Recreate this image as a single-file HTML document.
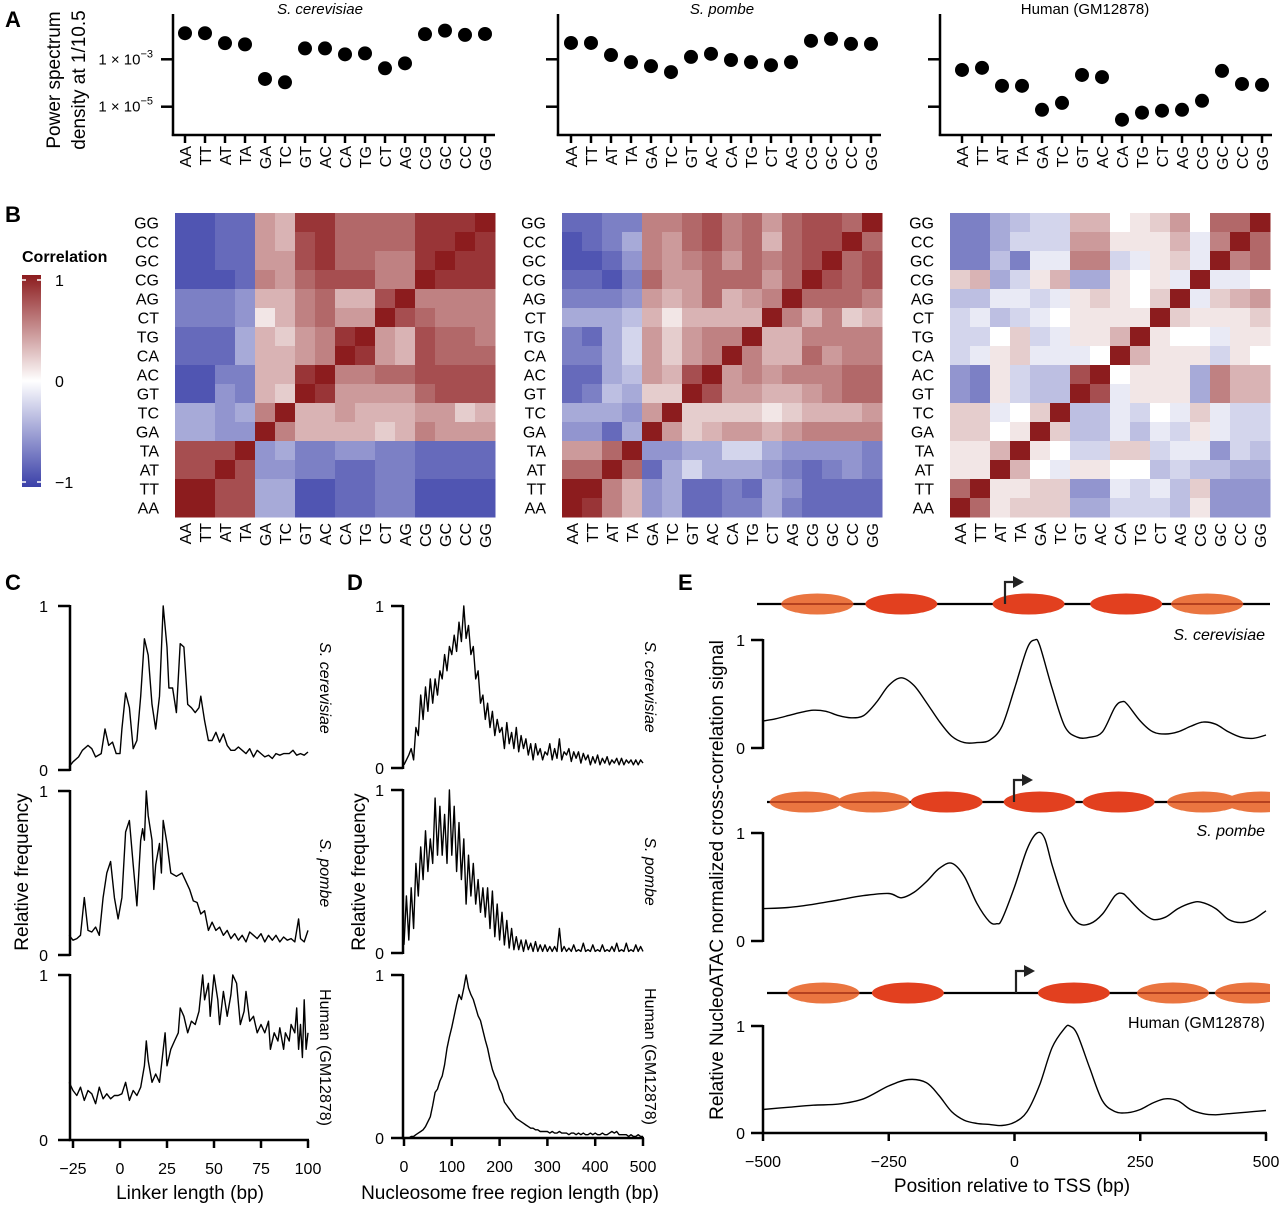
<!DOCTYPE html>
<html><head><meta charset="utf-8"><style>
body{margin:0;background:#fff}
svg{display:block;font-family:"Liberation Sans",sans-serif}
</style></head><body>
<svg id="fig" width="1280" height="1205" viewBox="0 0 1280 1205" xmlns="http://www.w3.org/2000/svg"></svg>
<script>
// ---------- DATA ----------
const dinucs = ["AA","TT","AT","TA","GA","TC","GT","AC","CA","TG","CT","AG","CG","GC","CC","GG"];
const rowLabels = ["GG","CC","GC","CG","AG","CT","TG","CA","AC","GT","TC","GA","TA","AT","TT","AA"];
// Panel A: log10 power spectrum density
const psdCer = [-1.90,-1.90,-2.32,-2.37,-3.83,-3.97,-2.54,-2.54,-2.79,-2.75,-3.38,-3.17,-1.94,-1.79,-1.97,-1.93];
const psdPom = [-2.31,-2.31,-2.82,-3.12,-3.29,-3.54,-2.90,-2.77,-3.03,-3.12,-3.25,-3.12,-2.22,-2.14,-2.35,-2.35];
const psdHum = [-3.45,-3.36,-4.12,-4.12,-5.13,-4.84,-3.66,-3.75,-5.55,-5.25,-5.17,-5.13,-4.75,-3.49,-4.04,-4.08];
// Panel B: correlations (x9), rows top->bottom (rowLabels), cols dinucs
const corrCer = [
[-8,-8,-7,-7,4,3,8,8,6,6,6,6,8,8,8,9],[-8,-8,-7,-7,4,3,7,8,6,6,6,6,8,8,9,8],
[-8,-8,-7,-7,4,4,7,8,6,6,5,5,8,9,8,8],[-8,-8,-8,-7,5,4,6,7,7,7,5,5,9,8,8,8],
[-6,-6,-6,-5,3,3,5,6,3,3,7,9,5,5,5,5],[-6,-6,-6,-5,1,3,5,6,4,4,9,7,6,5,5,5],
[-7,-7,-7,-4,3,2,4,5,8,9,4,3,7,6,6,5],[-7,-7,-7,-4,3,3,4,5,9,8,4,3,7,6,6,6],
[-8,-8,-6,-6,3,3,8,9,5,5,6,6,7,7,7,7],[-8,-8,-5,-6,3,2,9,8,4,4,4,4,6,7,7,7],
[-4,-4,-5,-4,5,9,3,3,4,3,3,3,4,4,2,3],[-4,-4,-5,-5,9,5,3,3,3,3,2,3,5,4,4,4],
[7,7,7,9,-5,-4,-6,-6,-5,-5,-6,-6,-7,-7,-7,-7],[7,7,9,7,-5,-5,-6,-6,-7,-7,-6,-6,-7,-7,-7,-7],
[9,9,7,7,-4,-4,-8,-8,-7,-7,-6,-6,-8,-8,-8,-8],[9,9,7,7,-4,-4,-8,-8,-7,-7,-6,-6,-8,-8,-8,-8]];
const corrPom = [
[-7,-7,-6,-6,5,5,6,7,5,6,4,6,7,7,6,9],[-8,-7,-6,-4,5,4,6,7,5,6,3,6,7,7,9,6],
[-8,-8,-7,-5,5,4,5,6,4,6,5,6,7,9,6,7],[-7,-7,-8,-6,6,4,4,6,6,6,4,6,9,7,6,7],
[-6,-6,-6,-5,4,3,4,6,3,4,5,9,6,6,6,5],[-4,-4,-4,-3,3,1,3,3,3,3,9,5,3,5,2,3],
[-6,-7,-4,-2,4,2,4,5,5,9,3,3,5,5,5,5],[-6,-6,-4,-2,4,2,4,5,9,5,3,3,6,4,5,5],
[-7,-7,-4,-3,4,3,7,9,4,5,4,5,5,5,6,6],[-7,-6,-3,-4,2,2,9,7,4,4,3,3,4,5,6,6],
[-4,-4,-4,-5,4,9,2,2,2,2,1,2,3,3,3,4],[-5,-5,-7,-4,9,4,2,3,4,4,3,4,5,5,5,5],
[4,4,6,9,-5,-5,-4,-4,-2,-2,-4,-5,-5,-5,-5,-6],[6,6,9,6,-7,-4,-2,-4,-4,-4,-5,-6,-7,-6,-5,-6],
[9,9,5,3,-5,-4,-7,-7,-6,-7,-4,-5,-7,-7,-7,-7],[9,8,5,3,-5,-4,-7,-7,-6,-6,-4,-6,-7,-7,-7,-7]];
const corrHum = [
[-6,-6,-4,-3,-2,-2,3,3,0,1,2,4,0,6,6,9],[-6,-6,-4,-2,-2,-2,4,4,1,1,1,3,-1,5,9,6],
[-6,-6,-3,-6,-1,-1,5,5,-2,-1,1,2,-1,9,5,6],[2,3,-4,-2,1,3,-4,-4,1,0,1,-1,9,-1,-1,0],
[-3,-3,-1,-1,-2,-1,1,2,1,0,2,9,-1,2,3,4],[-2,-1,-3,-2,-1,0,1,1,1,1,9,2,1,1,1,2],
[-2,-2,0,2,-2,-1,1,1,3,9,1,0,0,-1,1,1],[-2,-1,1,2,-1,-1,-1,0,9,3,1,1,1,-2,1,0],
[-5,-6,1,-2,-3,-3,7,9,0,1,1,1,-4,5,3,3],[-5,-6,1,-2,-3,-3,9,7,-1,1,1,1,-4,5,3,3],
[2,2,-1,0,2,9,-3,-3,-1,-2,0,-1,2,-1,-2,-2],[2,2,0,1,9,2,-3,-3,-1,-3,-1,-2,1,-1,-2,-2],
[1,1,3,9,1,0,-2,-2,2,2,-2,-1,-1,-5,-2,-3],[1,1,9,3,0,-1,1,1,0,0,-3,-2,-3,-3,-4,-4],
[6,9,1,1,2,2,-5,-5,-1,-2,-1,-3,2,-5,-5,-5],[9,6,1,2,2,2,-4,-4,-2,-2,-2,-3,1,-5,-5,-5]];
// Panel C: linker length distributions
const linkCerX = [-27,-25,-22,-20,-17,-15,-13,-10,-8,-6,-4,-2,0,1,3,5,7,9,11,13,15,17,19,21,23,25,26,28,30,32,34,36,38,40,42,43,45,47,49,51,53,55,57,59,61,63,65,67,69,71,73,75,77,79,81,83,85,87,90,92,94,96,98,100];
const linkCerY = [0.02,0.05,0.08,0.12,0.15,0.13,0.08,0.10,0.25,0.15,0.17,0.10,0.10,0.25,0.47,0.38,0.13,0.18,0.45,0.80,0.70,0.40,0.25,0.45,1.0,0.75,0.50,0.50,0.35,0.77,0.75,0.40,0.38,0.35,0.38,0.45,0.30,0.18,0.18,0.23,0.17,0.22,0.15,0.12,0.12,0.14,0.12,0.10,0.13,0.08,0.12,0.10,0.08,0.09,0.07,0.10,0.09,0.10,0.10,0.12,0.09,0.10,0.09,0.11];
const linkPomX = [-27,-25,-23,-21,-19,-17,-15,-13,-11,-9,-7,-5,-3,-1,1,3,5,7,9,11,12,13,14,15,17,18,19,21,22,23,24,25,27,30,33,35,37,39,41,43,45,47,49,51,53,55,57,59,61,63,65,67,69,71,73,75,77,79,81,83,85,87,89,91,93,95,96,98,100];
const linkPomY = [0.12,0.09,0.10,0.12,0.35,0.15,0.14,0.17,0.12,0.35,0.50,0.57,0.35,0.22,0.35,0.75,0.82,0.55,0.30,0.70,0.77,0.70,1.0,0.85,0.70,0.40,0.55,0.68,0.50,0.82,0.75,0.68,0.50,0.48,0.50,0.45,0.40,0.33,0.32,0.25,0.27,0.15,0.20,0.15,0.17,0.12,0.15,0.10,0.13,0.09,0.12,0.08,0.14,0.12,0.10,0.13,0.08,0.12,0.09,0.12,0.08,0.11,0.09,0.10,0.08,0.22,0.10,0.08,0.15];
const linkHumX = [-27,-25,-23,-21,-19,-17,-15,-13,-11,-9,-7,-5,-3,-1,1,3,5,7,9,11,13,14,15,17,19,21,22,24,25,27,29,31,32,34,36,38,40,42,44,45,47,48,50,52,53,55,57,59,60,62,64,66,67,69,71,73,75,77,79,80,82,84,85,87,88,90,91,93,94,95,96,97,98,99,100];
const linkHumY = [0.35,0.30,0.27,0.32,0.24,0.30,0.28,0.22,0.32,0.25,0.28,0.25,0.27,0.27,0.28,0.35,0.24,0.30,0.27,0.32,0.45,0.60,0.48,0.35,0.40,0.35,0.45,0.65,0.45,0.55,0.60,0.65,0.80,0.75,0.65,0.72,0.70,0.78,1.0,0.85,0.95,0.75,1.0,0.85,0.70,0.90,0.75,0.88,1.0,0.95,0.70,0.78,0.90,0.72,0.75,0.65,0.70,0.65,0.72,0.55,0.65,0.60,0.68,0.55,0.65,0.60,0.70,0.65,0.80,0.55,0.70,0.50,0.85,0.55,0.65];
// Panel D: NFR length distributions, every 5 bp from 0 to 500
const nfrCer = [0.02,0.05,0.08,0.12,0.05,0.25,0.20,0.45,0.30,0.50,0.35,0.55,0.40,0.55,0.45,0.60,0.55,0.70,0.60,0.75,0.70,0.82,0.72,0.90,0.78,1.0,0.80,0.88,0.70,0.75,0.55,0.60,0.40,0.45,0.30,0.40,0.25,0.35,0.20,0.30,0.22,0.25,0.12,0.28,0.15,0.22,0.12,0.25,0.10,0.20,0.12,0.18,0.08,0.15,0.05,0.15,0.08,0.12,0.05,0.10,0.08,0.15,0.05,0.12,0.06,0.18,0.05,0.10,0.08,0.12,0.04,0.10,0.06,0.10,0.03,0.09,0.05,0.08,0.02,0.07,0.03,0.08,0.02,0.06,0.03,0.07,0.02,0.05,0.03,0.06,0.02,0.06,0.02,0.05,0.03,0.05,0.02,0.05,0.02,0.05,0.03];
const nfrPom = [0.05,0.35,0.08,0.40,0.15,0.55,0.35,0.65,0.45,0.75,0.50,0.70,0.55,0.95,0.60,0.90,0.60,0.85,0.55,1.0,0.60,0.90,0.50,0.80,0.45,0.70,0.30,0.60,0.35,0.55,0.30,0.45,0.25,0.40,0.22,0.40,0.15,0.38,0.10,0.30,0.08,0.25,0.05,0.20,0.03,0.15,0.02,0.10,0.02,0.08,0.01,0.08,0.02,0.06,0.01,0.07,0.01,0.05,0.01,0.05,0.01,0.04,0.01,0.04,0.01,0.15,0.01,0.04,0.01,0.03,0.01,0.05,0.01,0.02,0.01,0.06,0.01,0.02,0.01,0.05,0.01,0.02,0.01,0.05,0.01,0.02,0.01,0.04,0.01,0.06,0.01,0.02,0.01,0.06,0.01,0.02,0.01,0.05,0.01,0.04,0.01];
const nfrHum = [0,0,0,0.01,0.01,0.02,0.03,0.04,0.05,0.07,0.10,0.13,0.20,0.28,0.30,0.35,0.38,0.45,0.55,0.62,0.68,0.75,0.82,0.88,0.85,0.92,1.0,0.92,0.88,0.85,0.80,0.75,0.72,0.66,0.60,0.55,0.48,0.42,0.38,0.35,0.30,0.27,0.22,0.20,0.18,0.16,0.14,0.12,0.11,0.10,0.09,0.08,0.07,0.06,0.06,0.05,0.05,0.04,0.04,0.04,0.04,0.03,0.04,0.03,0.03,0.04,0.03,0.03,0.03,0.02,0.03,0.03,0.02,0.03,0.02,0.03,0.02,0.02,0.03,0.02,0.03,0.02,0.02,0.03,0.02,0.02,0.03,0.04,0.03,0.04,0.02,0.02,0.02,0.02,0.01,0.02,0.01,0.01,0.02,0.01,0.01];
// Panel E: cross-correlation signal
const ccCerX = [-500,-475,-450,-425,-400,-375,-350,-325,-300,-275,-250,-225,-200,-175,-150,-125,-100,-75,-50,-25,0,25,40,50,75,100,125,150,175,200,215,225,250,275,300,325,350,375,400,425,450,475,500];
const ccCerY = [0.25,0.27,0.30,0.33,0.35,0.34,0.30,0.28,0.30,0.42,0.58,0.65,0.58,0.42,0.25,0.11,0.05,0.05,0.07,0.20,0.55,0.92,1.0,0.95,0.55,0.20,0.10,0.10,0.15,0.38,0.43,0.40,0.25,0.15,0.13,0.15,0.20,0.24,0.22,0.15,0.10,0.09,0.12];
const ccPomX = [-500,-450,-400,-350,-300,-250,-225,-200,-175,-150,-125,-100,-75,-50,-35,-25,0,25,45,60,75,100,125,150,175,200,215,225,250,275,300,325,350,370,400,425,450,475,500];
const ccPomY = [0.30,0.31,0.34,0.38,0.42,0.44,0.40,0.45,0.55,0.67,0.72,0.60,0.35,0.18,0.16,0.20,0.50,0.85,1.0,0.95,0.70,0.35,0.17,0.16,0.25,0.42,0.44,0.40,0.28,0.20,0.22,0.30,0.35,0.36,0.30,0.20,0.17,0.20,0.28];
const ccHumX = [-500,-450,-400,-350,-300,-250,-210,-175,-150,-125,-100,-75,-50,-25,0,25,50,75,100,110,125,150,175,200,225,250,275,300,325,350,375,400,425,450,475,500];
const ccHumY = [0.22,0.24,0.26,0.27,0.32,0.44,0.50,0.47,0.35,0.20,0.12,0.09,0.08,0.07,0.10,0.20,0.45,0.80,0.98,1.0,0.92,0.60,0.30,0.20,0.19,0.22,0.28,0.32,0.30,0.22,0.18,0.17,0.18,0.19,0.20,0.21];
// Panel E: nucleosome diagram (position in bp, dark=well-positioned)
const nucCerPos = [-392,-225,28,222,383];
const nucCerDark = [0,1,1,1,0];
const nucPomPos = [-415,-280,-135,50,207,375,490];
const nucPomDark = [0,0,1,1,1,0,0];
const nucHumPos = [-380,-212,118,315,470];
const nucHumDark = [0,1,1,0,0];

// ---------- DRAWING ----------
const NS = "http://www.w3.org/2000/svg";
const svg = document.getElementById("fig");
function mk(tag, attrs, parent) {
  const e = document.createElementNS(NS, tag);
  for (const k in attrs) e.setAttribute(k, attrs[k]);
  (parent || svg).appendChild(e);
  return e;
}
function txt(s, x, y, size, opts, parent) {
  const a = Object.assign({x: x, y: y, "font-size": size, fill: "#000"}, opts || {});
  const e = mk("text", a, parent);
  e.textContent = s;
  return e;
}
function line(x1, y1, x2, y2, w, parent) {
  return mk("line", {x1: x1, y1: y1, x2: x2, y2: y2, stroke: "#000", "stroke-width": w || 2.5}, parent);
}
function panelLabel(s, x, y) {
  const t = txt(s, x, y, 22, {"font-weight": "bold"});
  
  
}
panelLabel("A", 5, 27);
panelLabel("B", 5, 222);
panelLabel("C", 5, 590);
panelLabel("D", 347, 590);
panelLabel("E", 678, 590);

// ---- Panel A ----
const aCfg = [
  {data: psdCer, ax: 173, x0: 185, title: "S. cerevisiae", it: true, tx: 320},
  {data: psdPom, ax: 558, x0: 571, title: "S. pombe", it: true, tx: 722},
  {data: psdHum, ax: 940, x0: 962, title: "Human (GM12878)", it: false, tx: 1085}
];
function yA(v) { return 59.3 - (v + 3) * 23.7; }
aCfg.forEach((c, pi) => {
  const g = mk("g", {});
  
  
  line(c.ax, 14, c.ax, 136, 2.5, g);
  line(c.ax - 1.2, 135, c.x0 + 15 * 20 + 10, 135, 2.5, g);
  [-3, -5].forEach(v => { line(c.ax - 12, yA(v), c.ax, yA(v), 2.5, g); });
  const t = txt(c.title, c.tx, 14, 15, {"text-anchor": "middle", "font-style": c.it ? "italic" : "normal"}, g);
  
  
  c.data.forEach((v, i) => {
    const x = c.x0 + i * 20;
    line(x, 135, x, 143, 2.5, g);
    const d = mk("circle", {cx: x, cy: yA(v), r: 7, fill: "#000"}, g);
    
    
    const l = txt(dinucs[i], 0, 0, 16, {"text-anchor": "end", transform: "translate(" + (x + 6) + ",146) rotate(-90)"}, g);
    
    
  });
});
[["−3", -3], ["−5", -5]].forEach(([s, v]) => {
  const t = mk("text", {x: 153, y: yA(v) + 5, "font-size": 15, "text-anchor": "end"});
  t.innerHTML = '1 × 10<tspan dy="-7" font-size="11">' + s + '</tspan>';
  
  
});
const aT1 = txt("Power spectrum", 0, 0, 19, {"text-anchor": "middle", transform: "translate(60,80) rotate(-90)"});


const aT2 = txt("density at 1/10.5", 0, 0, 19, {"text-anchor": "middle", transform: "translate(85,80) rotate(-90)"});



// ---- Panel B ----
function corrColor(v) {
  const r = v / 9;
  let c;
  if (r >= 0) c = [255 + (140 - 255) * r, 255 + (28 - 255) * r, 255 + (30 - 255) * r];
  else { const a = -r; c = [255 + (58 - 255) * a, 255 + (64 - 255) * a, 255 + (168 - 255) * a]; }
  return "rgb(" + c.map(Math.round).join(",") + ")";
}
const hmCfg = [{data: corrCer, x0: 175}, {data: corrPom, x0: 562}, {data: corrHum, x0: 950}];
const hmY0 = 213, cw = 20, ch = 19;
hmCfg.forEach((h, hi) => {
  const g = mk("g", {});
  
  
  h.data.forEach((row, r) => {
    row.forEach((v, c) => {
      const rc = mk("rect", {x: h.x0 + c * cw, y: hmY0 + r * ch, width: cw + 0.5, height: ch + 0.5, fill: corrColor(v)}, g);
      
      
    });
    const rl = txt(rowLabels[r], h.x0 - 16, hmY0 + r * ch + ch / 2 + 6, 16, {"text-anchor": "end"}, g);
    
    
  });
  dinucs.forEach((d, c) => {
    const x = h.x0 + c * cw + cw / 2;
    const cl = txt(d, 0, 0, 16, {"text-anchor": "end", transform: "translate(" + (x + 6) + ",523) rotate(-90)"}, g);
    
    
  });
});
// colorbar
const defs = mk("defs", {});
const grad = mk("linearGradient", {id: "cbg", x1: 0, y1: 0, x2: 0, y2: 1}, defs);
mk("stop", {offset: "0", "stop-color": "rgb(140,28,30)"}, grad);
mk("stop", {offset: "0.5", "stop-color": "#fff"}, grad);
mk("stop", {offset: "1", "stop-color": "rgb(58,64,168)"}, grad);
const cb = mk("rect", {x: 22, y: 275, width: 19, height: 212, fill: "url(#cbg)"});


[[280, "1"], [381, "0"], [482, "−1"]].forEach(([y, s]) => {
  mk("line", {x1: 22, y1: y, x2: 26, y2: y, stroke: "#fff", "stroke-width": 1.5});
  mk("line", {x1: 37, y1: y, x2: 41, y2: y, stroke: "#fff", "stroke-width": 1.5});
  const t = txt(s, 55, y + 6, 16, {});
  
  
});
const cbt = txt("Correlation", 22, 262, 16, {"font-weight": "bold"});



// ---- Line panels helper ----
function pathFrom(xs, ys, sx, sy) {
  return xs.map((x, i) => (i ? "L" : "M") + sx(x).toFixed(1) + "," + sy(ys[i]).toFixed(1)).join(" ");
}
function smoothPath(xs, ys, sx, sy) {
  const p = xs.map((x, i) => [sx(x), sy(ys[i])]);
  let d = "M" + p[0][0].toFixed(1) + "," + p[0][1].toFixed(1);
  for (let i = 0; i < p.length - 1; i++) {
    const p0 = p[i - 1] || p[i], p1 = p[i], p2 = p[i + 1], p3 = p[i + 2] || p2;
    const c1 = [p1[0] + (p2[0] - p0[0]) / 6, p1[1] + (p2[1] - p0[1]) / 6];
    const c2 = [p2[0] - (p3[0] - p1[0]) / 6, p2[1] - (p3[1] - p1[1]) / 6];
    d += " C" + c1.map(v => v.toFixed(1)).join(",") + " " + c2.map(v => v.toFixed(1)).join(",") + " " + p2[0].toFixed(1) + "," + p2[1].toFixed(1);
  }
  return d;
}
function yAxis(ax, y1, y0, tickX, g) {
  line(ax, y1 - 1, ax, y0 + 1, 2.5, g);
  line(ax - 12, y1, ax, y1, 2.5, g);
  line(ax - 12, y0, ax, y0, 2.5, g);
  const a = txt("1", tickX, y1 + 6, 16, {"text-anchor": "end"}, g);
  
  
  const b = txt("0", tickX, y0 + 6, 16, {"text-anchor": "end"}, g);
  
  
}

// ---- Panel C ----
const cAx = 70;
const sxC = x => 120 + x * 1.88;
const cPlots = [
  {xs: linkCerX, ys: linkCerY, y1: 606, y0: 770, lab: "S. cerevisiae", it: true},
  {xs: linkPomX, ys: linkPomY, y1: 791, y0: 955, lab: "S. pombe", it: true},
  {xs: linkHumX, ys: linkHumY, y1: 975, y0: 1140, lab: "Human (GM12878)", it: false}
];
cPlots.forEach((p, i) => {
  const g = mk("g", {});
  
  
  yAxis(cAx, p.y1, p.y0, 48, g);
  const sy = v => p.y0 - v * (p.y0 - p.y1);
  const pa = mk("path", {d: pathFrom(p.xs, p.ys, sxC, sy), fill: "none", stroke: "#000", "stroke-width": 1.4, "stroke-linejoin": "round"}, g);
  
  
  const t = txt(p.lab, 0, 0, 16, {"text-anchor": "middle", "font-style": p.it ? "italic" : "normal", transform: "translate(320," + ((p.y0 + p.y1) / 2) + ") rotate(90)"}, g);
  
  
});
line(cAx - 1.2, 1140, 309, 1140);
[-25, 0, 25, 50, 75, 100].forEach(v => {
  line(sxC(v), 1140, sxC(v), 1148);
  const t = txt(v < 0 ? "−" + (-v) : String(v), sxC(v), 1174, 16, {"text-anchor": "middle"});
  
  
});
const cx = txt("Linker length (bp)", 190, 1199, 19, {"text-anchor": "middle"});


const cy = txt("Relative frequency", 0, 0, 19, {"text-anchor": "middle", transform: "translate(28,872) rotate(-90)"});



// ---- Panel D ----
const dAx = 403;
const sxD = x => 404 + x * 0.478;
const nfrX = nfrCer.map((_, i) => i * 5);
const dPlots = [
  {ys: nfrCer, y1: 606, y0: 768, lab: "S. cerevisiae", it: true},
  {ys: nfrPom, y1: 790, y0: 953, lab: "S. pombe", it: true},
  {ys: nfrHum, y1: 975, y0: 1138, lab: "Human (GM12878)", it: false}
];
dPlots.forEach((p, i) => {
  const g = mk("g", {});
  
  
  yAxis(dAx, p.y1, p.y0, 384, g);
  const sy = v => p.y0 - v * (p.y0 - p.y1);
  const pa = mk("path", {d: pathFrom(nfrX, p.ys, sxD, sy), fill: "none", stroke: "#000", "stroke-width": 1.4, "stroke-linejoin": "round"}, g);
  
  
  const t = txt(p.lab, 0, 0, 16, {"text-anchor": "middle", "font-style": p.it ? "italic" : "normal", transform: "translate(645," + ((p.y0 + p.y1) / 2) + ") rotate(90)"}, g);
  
  
});
line(dAx - 1.2, 1138, 644, 1138);
[0, 100, 200, 300, 400, 500].forEach(v => {
  line(sxD(v), 1138, sxD(v), 1146);
  const t = txt(String(v), sxD(v), 1172, 16, {"text-anchor": "middle"});
  
  
});
const dx = txt("Nucleosome free region length (bp)", 510, 1199, 19, {"text-anchor": "middle"});


const dy = txt("Relative frequency", 0, 0, 19, {"text-anchor": "middle", transform: "translate(365,872) rotate(-90)"});



// ---- Panel E ----
const eAx = 763;
const sxE = x => 1014.5 + x * 0.503;
const ePlots = [
  {xs: ccCerX, ys: ccCerY, y1: 640, y0: 748, lab: "S. cerevisiae", it: true, ly: 640, dy: 604, lx: 757, nuc: nucCerPos, dk: nucCerDark, tss: 1005},
  {xs: ccPomX, ys: ccPomY, y1: 833, y0: 941, lab: "S. pombe", it: true, ly: 836, dy: 802, lx: 767, nuc: nucPomPos, dk: nucPomDark, tss: 1014},
  {xs: ccHumX, ys: ccHumY, y1: 1026, y0: 1133, lab: "Human (GM12878)", it: false, ly: 1028, dy: 993, lx: 767, nuc: nucHumPos, dk: nucHumDark, tss: 1016}
];
mk("clipPath", {id: "eclip"}, defs);
mk("rect", {x: 700, y: 0, width: 570, height: 1205}, document.getElementById("eclip"));
ePlots.forEach((p, i) => {
  const g = mk("g", {});
  
  
  yAxis(eAx, p.y1, p.y0, 745, g);
  const sy = v => p.y0 - v * (p.y0 - p.y1);
  const pa = mk("path", {d: smoothPath(p.xs, p.ys, sxE, sy), fill: "none", stroke: "#000", "stroke-width": 1.4}, g);
  
  
  const t = txt(p.lab, 1265, p.ly, 16, {"text-anchor": "end", "font-style": p.it ? "italic" : "normal"}, g);
  
  
  // diagram
  const dg = mk("g", {"clip-path": "url(#eclip)"});
  
  
  line(p.lx, p.dy, 1275, p.dy, 2.2, dg);
  p.nuc.forEach((pos, k) => {
    const e = mk("ellipse", {cx: sxE(pos), cy: p.dy, rx: 36, ry: 10.5, fill: p.dk[k] ? "#e2401f" : "#ea7540"}, dg);
    
    
    if (!p.dk[k]) mk("line", {x1: sxE(pos) - 36, y1: p.dy, x2: sxE(pos) + 36, y2: p.dy, stroke: "#b4401f", "stroke-width": 2}, dg);
  });
  const ar = mk("path", {d: "M" + p.tss + "," + p.dy + " V" + (p.dy - 22) + " H" + (p.tss + 9), fill: "none", stroke: "#222", "stroke-width": 2.2});
  
  
  mk("path", {d: "M" + (p.tss + 8) + "," + (p.dy - 28) + " L" + (p.tss + 19) + "," + (p.dy - 22) + " L" + (p.tss + 8) + "," + (p.dy - 16) + " Z", fill: "#222"});
});
line(eAx - 1.2, 1133, 1267, 1133);
[-500, -250, 0, 250, 500].forEach(v => {
  line(sxE(v), 1133, sxE(v), 1141);
  const t = txt(v < 0 ? "−" + (-v) : String(v), sxE(v), 1167, 16, {"text-anchor": "middle"});
  
  
});
const ex = txt("Position relative to TSS (bp)", 1012, 1192, 19, {"text-anchor": "middle"});


const ey = txt("Relative NucleoATAC normalized cross-correlation signal", 0, 0, 19, {"text-anchor": "middle", transform: "translate(723,880) rotate(-90)"});


</script>
</body></html>
